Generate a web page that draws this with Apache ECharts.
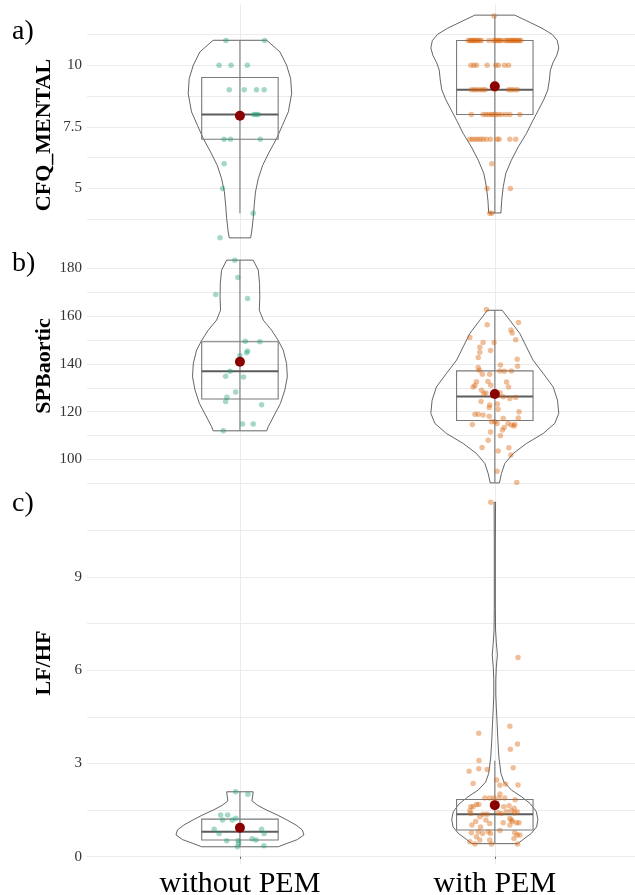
<!DOCTYPE html>
<html>
<head>
<meta charset="utf-8">
<script src="https://cdn.jsdelivr.net/npm/echarts@6/dist/echarts.min.js"></script>
<style>
  html, body { margin: 0; padding: 0; background: #fff; }
  #chart { width: 635px; height: 895px; }
</style>
</head>
<body>
<div id="chart"></div>
<script>
// groups on the x axis
const groups = ["without PEM", "with PEM"];

// ---- a) CFQ_MENTAL ----------------------------------------------
// points are [jitter offset, value]
const cfqWithout = [
  [-0.055, 11], [0.097, 11], [-0.082, 10], [-0.035, 10], [0.029, 10],
  [-0.042, 9], [0.017, 9], [0.065, 9], [0.095, 9],
  [0.055, 8], [0.063, 8], [0.072, 8],
  [-0.062, 7], [-0.037, 7], [0.080, 7],
  [-0.062, 6], [-0.068, 5], [0.052, 4], [-0.078, 3],
];
const cfqWith = [
  [-0.003, 12],
  [-0.105, 11], [-0.098, 11], [-0.093, 11], [-0.088, 11], [-0.082, 11], [-0.077, 11],
  [-0.072, 11], [-0.065, 11], [-0.059, 11], [-0.052, 11], [-0.024, 11], [-0.007, 11],
  [0.001, 11], [0.008, 11], [0.014, 11], [0.020, 11], [0.026, 11], [0.039, 11],
  [0.046, 11], [0.052, 11], [0.059, 11], [0.064, 11], [0.069, 11], [0.075, 11],
  [0.080, 11], [0.085, 11], [0.092, 11], [0.098, 11], [0.102, 11],
  [-0.094, 10], [-0.082, 10], [-0.072, 10], [-0.030, 10], [0.004, 10], [0.014, 10],
  [0.038, 10], [0.054, 10],
  [-0.092, 9], [-0.081, 9], [-0.071, 9], [-0.059, 9], [-0.048, 9], [-0.038, 9],
  [0.0, 9], [0.054, 9], [0.064, 9], [0.075, 9], [0.088, 9],
  [-0.092, 8], [-0.046, 8], [-0.035, 8], [-0.025, 8], [-0.014, 8], [-0.007, 8],
  [0.004, 8], [0.014, 8], [0.027, 8], [0.043, 8], [0.059, 8], [0.098, 8],
  [-0.098, 7], [-0.088, 7], [-0.077, 7], [-0.067, 7], [-0.056, 7], [-0.046, 7],
  [-0.033, 7], [-0.017, 7], [0.009, 7], [0.017, 7], [0.059, 7], [0.082, 7],
  [-0.012, 6], [-0.030, 5], [0.061, 5], [-0.020, 4], [-0.012, 4],
];
// violin outline: [value, half width]
const cfqViolinWithout = [
  [11.01, 0.105], [10.54, 0.157], [10.0, 0.183], [9.46, 0.199], [8.85, 0.203],
  [8.11, 0.19], [7.57, 0.167], [7.03, 0.144], [6.48, 0.115], [5.94, 0.089],
  [5.4, 0.072], [4.86, 0.061], [4.32, 0.056], [3.78, 0.052], [3.24, 0.046], [3.0, 0.042],
];
const cfqViolinWith = [
  [12.03, 0.078], [11.8, 0.125], [11.5, 0.185], [11.25, 0.225], [11.0, 0.245],
  [10.7, 0.251], [10.4, 0.243], [10.1, 0.228], [9.8, 0.218], [9.4, 0.214],
  [9.0, 0.208], [8.6, 0.192], [8.2, 0.172], [7.77, 0.15], [7.23, 0.124],
  [6.69, 0.092], [6.15, 0.065], [5.61, 0.043], [5.07, 0.033], [4.52, 0.027], [4.01, 0.024],
];
// box: [whisker low, q1, median, q3, whisker high]
const cfqBoxes = [[4, 7, 8, 9.5, 11], [4, 8, 9, 11, 12]];
const cfqMeans = [7.95, 9.15];
const cfqTicks = [5, 7.5, 10];
const cfqGridLines = [3.75, 5, 6.25, 7.5, 8.75, 10, 11.25];

// ---- b) SPBaortic -----------------------------------------------
const spbWithout = [
  [-0.02, 183.5], [-0.008, 176.2], [-0.095, 169.1], [0.03, 167.4], [0.021, 149.5],
  [0.078, 149.3], [0.03, 145.4], [0.026, 144.7], [0.0, 143.6], [-0.039, 137.0],
  [-0.056, 134.9], [0.014, 134.5], [-0.017, 128.3], [-0.051, 126.1], [-0.056, 124.3],
  [0.085, 122.9], [0.01, 114.9], [0.052, 114.9], [-0.065, 112.0],
];
const spbWith = [
  [-0.033, 162.8], [-0.03, 156.4], [0.093, 157.4], [-0.098, 151.1], [0.063, 154.2],
  [0.068, 153.0], [0.082, 150.1], [-0.046, 149.0], [-0.003, 149.0], [-0.059, 147.0],
  [-0.059, 144.9], [-0.017, 145.6], [-0.065, 142.7], [0.088, 142.0], [0.022, 139.6],
  [0.089, 139.0], [-0.065, 138.5], [-0.061, 137.4], [0.02, 137.1], [0.037, 137.0],
  [0.065, 137.1], [-0.049, 135.7], [-0.02, 135.7], [-0.027, 132.7], [-0.072, 132.6],
  [0.046, 132.4], [-0.078, 131.0], [-0.016, 131.1], [0.054, 130.4], [-0.085, 130.4],
  [-0.052, 129.0], [-0.035, 127.8], [-0.043, 127.4], [0.02, 127.9], [0.033, 126.3],
  [0.082, 126.0], [0.059, 125.5], [-0.054, 124.3], [0.01, 123.2], [-0.02, 122.8],
  [-0.022, 121.8], [0.013, 121.0], [0.095, 120.0], [-0.078, 118.9], [-0.065, 118.9],
  [-0.046, 118.6], [-0.022, 118.1], [0.033, 117.2], [0.092, 117.4], [-0.088, 114.7],
  [-0.013, 115.8], [0.0, 115.8], [0.009, 115.1], [0.052, 115.1], [0.065, 114.4],
  [0.078, 114.7], [0.037, 113.4], [0.03, 112.3], [0.075, 114.0], [-0.017, 111.5],
  [0.022, 109.9], [-0.026, 108.0], [-0.05, 105.0], [0.055, 104.9], [0.013, 103.5],
  [0.063, 101.9], [0.009, 95.1], [0.086, 90.4],
];
const spbViolinWithout = [
  [183.5, 0.052], [179.3, 0.072], [173.7, 0.077], [168.1, 0.078], [162.5, 0.076],
  [158.3, 0.092], [154.2, 0.124], [149.9, 0.15], [145.8, 0.17], [140.2, 0.183],
  [134.6, 0.186], [129.0, 0.176], [123.5, 0.159], [117.8, 0.131], [113.7, 0.111], [112.0, 0.105],
];
const spbViolinWith = [
  [162.5, 0.029], [158.3, 0.059], [152.8, 0.098], [147.2, 0.124], [141.6, 0.15],
  [136.0, 0.19], [130.4, 0.229], [124.8, 0.246], [119.3, 0.251], [115.1, 0.235],
  [110.9, 0.19], [106.7, 0.124], [102.5, 0.072], [98.3, 0.039], [94.1, 0.026], [90.2, 0.018],
];
const spbBoxes = [[112, 125.3, 137, 149.3, 183.5], [90.2, 116.3, 126.4, 137.1, 162.5]];
const spbMeans = [140.9, 127.4];
const spbTicks = [100, 120, 140, 160, 180];
const spbGridLines = [90, 100, 110, 120, 130, 140, 150, 160, 170, 180];

// ---- c) LF/HF ---------------------------------------------------
const lfhfWithout = [
  [-0.017, 2.09], [0.031, 2.01], [-0.076, 1.34], [-0.048, 1.34], [-0.068, 1.18],
  [-0.03, 1.18], [-0.016, 1.24], [-0.101, 0.88], [-0.082, 0.75], [0.085, 0.88],
  [0.095, 0.75], [-0.052, 0.51], [-0.007, 0.51], [-0.005, 0.43], [0.048, 0.58],
  [0.063, 0.54], [-0.01, 0.32], [0.094, 0.35],
];
const lfhfWith = [
  [-0.016, 11.41], [0.091, 6.41],
  [0.059, 4.2], [-0.063, 3.97], [0.089, 3.63], [0.061, 3.46], [-0.062, 3.1],
  [0.072, 2.86], [-0.063, 2.83], [-0.03, 2.81], [-0.101, 2.75],
  [0.007, 2.47], [-0.085, 2.36], [0.042, 2.34], [0.091, 2.31], [0.02, 2.3], [0.02, 2.02],
  [-0.039, 1.89], [-0.02, 1.89], [-0.004, 1.89], [0.017, 1.89], [0.039, 1.89], [0.08, 1.83],
  [-0.094, 1.61], [-0.085, 1.61], [-0.072, 1.68], [-0.063, 1.68],
  [0.035, 1.61], [0.056, 1.64], [0.076, 1.56],
  [-0.098, 1.48], [-0.094, 1.39], [-0.046, 1.37], [-0.03, 1.37],
  [0.013, 1.41], [0.026, 1.39], [0.046, 1.45], [0.065, 1.48], [0.078, 1.41], [0.088, 1.45],
  [-0.059, 1.29], [-0.075, 1.13], [-0.035, 1.18], [-0.02, 1.07], [-0.09, 1.02], [-0.056, 0.96],
  [0.059, 1.23], [0.069, 1.13], [0.065, 1.18], [0.085, 1.09], [0.095, 1.09], [0.033, 1.09],
  [-0.065, 0.8], [-0.092, 0.77], [-0.048, 0.75], [-0.026, 0.8], [-0.017, 0.75], [0.02, 0.84],
  [0.059, 1.02], [0.078, 0.77], [0.088, 0.7], [0.098, 0.7],
  [-0.098, 0.48], [-0.078, 0.41], [-0.02, 0.54], [-0.013, 0.41], [0.075, 0.59],
  [0.089, 0.41], [-0.072, 0.64], [-0.059, 0.54],
];
const lfhfViolinWithout = [
  [2.09, 0.052], [1.95, 0.05], [1.8, 0.047], [1.65, 0.07], [1.5, 0.105], [1.35, 0.145],
  [1.18, 0.185], [1.02, 0.22], [0.86, 0.245], [0.7, 0.251], [0.55, 0.225], [0.43, 0.185], [0.32, 0.15],
];
const lfhfViolinWith = [
  [11.41, 0.003], [11.0, 0.0025], [10.0, 0.002], [9.0, 0.002], [8.0, 0.002], [7.3, 0.003],
  [6.9, 0.006], [6.5, 0.01], [6.1, 0.006], [5.7, 0.004], [5.2, 0.004], [4.8, 0.006],
  [4.3, 0.009], [3.75, 0.012], [3.2, 0.016], [2.68, 0.024], [2.4, 0.036], [2.14, 0.066],
  [1.93, 0.105], [1.7, 0.14], [1.45, 0.163], [1.2, 0.169], [0.96, 0.164], [0.75, 0.143],
  [0.56, 0.112], [0.42, 0.09],
];
const lfhfBoxes = [[0.32, 0.54, 0.8, 1.21, 2.09], [0.43, 0.86, 1.37, 1.84, 3.09]];
const lfhfMeans = [0.93, 1.66];
const lfhfTicks = [0, 3, 6, 9];
const lfhfGridLines = [0, 1.5, 3, 4.5, 6, 7.5, 9, 10.5];

// -----------------------------------------------------------------
const panels = [
  { tag: "a)", name: "CFQ_MENTAL", pts: [cfqWithout, cfqWith], violins: [cfqViolinWithout, cfqViolinWith],
    boxes: cfqBoxes, means: cfqMeans, ticks: cfqTicks, lines: cfqGridLines },
  { tag: "b)", name: "SPBaortic", pts: [spbWithout, spbWith], violins: [spbViolinWithout, spbViolinWith],
    boxes: spbBoxes, means: spbMeans, ticks: spbTicks, lines: spbGridLines },
  { tag: "c)", name: "LF/HF", pts: [lfhfWithout, lfhfWith], violins: [lfhfViolinWithout, lfhfViolinWith],
    boxes: lfhfBoxes, means: lfhfMeans, ticks: lfhfTicks, lines: lfhfGridLines },
];

// page placement of the three panels
const layout = [
  { top: 4, height: 245, titleY: 135, tagY: 32 },
  { top: 249, height: 245, titleY: 366, tagY: 264 },
  { top: 485, height: 379, titleY: 663, tagY: 504 },
];

const FONT = '"Liberation Serif", "Times New Roman", serif';
const pointColors = ["rgba(27,158,119,0.4)", "rgba(217,95,2,0.4)"];

// ggplot-like 5% expansion of the data range
function yRange(p) {
  const vals = [];
  p.pts.forEach((s) => s.forEach((d) => vals.push(d[1])));
  p.violins.forEach((v) => v.forEach((d) => vals.push(d[0])));
  const lo = Math.min(...vals);
  const hi = Math.max(...vals);
  const pad = (hi - lo) * 0.05;
  return [lo - pad, hi + pad];
}

const grid = [];
const xAxis = [];
const yAxis = [];
const series = [];
const graphic = [];

panels.forEach((p, i) => {
  const r = yRange(p);
  const last = i === panels.length - 1;

  grid.push({
    left: 87,
    right: 0,
    top: layout[i].top,
    height: layout[i].height,
    containLabel: false,
    outerBoundsMode: "none",
  });

  xAxis.push({
    gridIndex: i,
    type: "value",
    min: 0.4,
    max: 2.55,
    axisLine: { show: false },
    axisTick: { show: last, length: 2, customValues: [1, 2], lineStyle: { color: "#555" } },
    axisLabel: {
      show: last,
      customValues: [1, 2],
      formatter: (v) => groups[Math.round(v) - 1],
      fontFamily: FONT,
      fontSize: 30,
      color: "#000",
      margin: 5,
    },
    splitLine: { show: true, lineStyle: { color: "#ebebeb", width: 1 } },
  });

  yAxis.push({
    gridIndex: i,
    type: "value",
    min: r[0],
    max: r[1],
    axisLine: { show: false },
    axisTick: { show: false, customValues: p.lines },
    axisLabel: {
      customValues: p.ticks,
      formatter: (v) => String(v),
      fontFamily: FONT,
      fontSize: 15,
      color: "#333",
      margin: 5,
    },
    splitLine: { show: true, lineStyle: { color: "#ebebeb", width: 1 } },
  });

  // violin + box + whisker
  series.push({
    type: "custom",
    xAxisIndex: i,
    yAxisIndex: i,
    data: [0, 1],
    silent: true,
    z: 2,
    renderItem: (params, api) => {
      const g = params.dataIndex;
      const x = g + 1;
      const prof = p.violins[g];
      const left = prof.map(([v, w]) => api.coord([x - w, v]));
      const right = prof.slice().reverse().map(([v, w]) => api.coord([x + w, v]));
      const [lo, q1, med, q3, hi] = p.boxes[g];
      const tl = api.coord([x - 0.15, q3]);
      const br = api.coord([x + 0.15, q1]);
      const mL = api.coord([x - 0.15, med]);
      const mR = api.coord([x + 0.15, med]);
      const wTop = api.coord([x, hi]);
      const wBot = api.coord([x, lo]);
      return {
        type: "group",
        children: [
          {
            type: "polygon",
            shape: { points: left.concat(right) },
            style: { fill: "transparent", stroke: "#3d3d3d", lineWidth: 0.8 },
          },
          {
            type: "line",
            shape: { x1: wTop[0], y1: wTop[1], x2: wBot[0], y2: wBot[1] },
            style: { stroke: "#7a7a7a", lineWidth: 1.1 },
          },
          {
            type: "rect",
            shape: { x: tl[0], y: tl[1], width: br[0] - tl[0], height: br[1] - tl[1] },
            style: { fill: "transparent", stroke: "#7a7a7a", lineWidth: 1.1 },
          },
          {
            type: "line",
            shape: { x1: mL[0], y1: mL[1], x2: mR[0], y2: mR[1] },
            style: { stroke: "#5c5c5c", lineWidth: 2 },
          },
        ],
      };
    },
  });

  // jittered observations
  p.pts.forEach((pts, g) => {
    series.push({
      type: "scatter",
      xAxisIndex: i,
      yAxisIndex: i,
      symbolSize: 5.5,
      z: 3,
      silent: true,
      itemStyle: { color: pointColors[g], opacity: 1 },
      data: pts.map(([dx, v]) => [g + 1 + dx, v]),
    });
  });

  // group means
  series.push({
    type: "scatter",
    xAxisIndex: i,
    yAxisIndex: i,
    symbolSize: 10,
    z: 4,
    silent: true,
    itemStyle: { color: "#8b0000", opacity: 1 },
    data: p.means.map((m, g) => [g + 1, m]),
  });

  graphic.push({
    type: "text",
    x: 12,
    y: layout[i].tagY,
    style: {
      text: p.tag,
      font: "28px " + FONT,
      fill: "#000",
      verticalAlign: "middle",
      textVerticalAlign: "middle",
    },
  });
  graphic.push({
    type: "text",
    x: 44,
    y: layout[i].titleY,
    rotation: Math.PI / 2,
    style: {
      text: p.name,
      font: "bold 22px " + FONT,
      fill: "#000",
      align: "center",
      textAlign: "center",
      verticalAlign: "middle",
      textVerticalAlign: "middle",
    },
  });
});

const chart = echarts.init(document.getElementById("chart"));
chart.setOption({
  animation: false,
  backgroundColor: "#fff",
  grid,
  xAxis,
  yAxis,
  series,
  graphic,
});
</script>
</body>
</html>
